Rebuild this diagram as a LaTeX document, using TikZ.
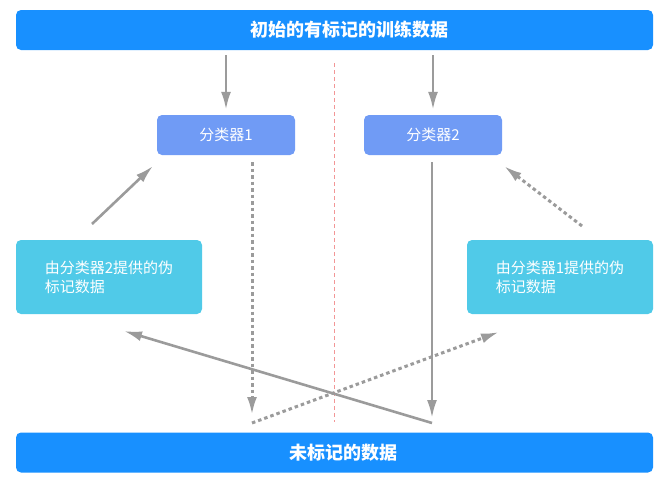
\documentclass[tikz,border=0pt]{standalone}
\usepackage{fontspec}
\setmainfont{Noto Sans CJK SC}
\usepackage{xcolor}
\usetikzlibrary{positioning}
\usetikzlibrary{arrows.meta}
\definecolor{barblue}{RGB}{24,144,255}
\definecolor{clfblue}{RGB}{112,155,245}
\definecolor{pseudocyan}{RGB}{80,202,232}
\definecolor{linkgray}{RGB}{155,155,155}
\definecolor{splitred}{RGB}{242,150,150}
\tikzset{edge/.style = {->,> = {Latex[length=18pt,width=10pt]}, draw=linkgray}}

\begin{document}
\begin{tikzpicture}[x=1pt,y=-1pt,
  bar node/.style={rectangle,rounded corners=5pt,fill=barblue,text=white,font=\fontsize{18}{21}\selectfont\bfseries,minimum width=637pt,minimum height=40pt},
  clf node/.style={rectangle,rounded corners=5pt,fill=clfblue,text=white,font=\fontsize{15}{18}\selectfont,minimum width=138pt,minimum height=40pt},
  pseudo node/.style={rectangle,rounded corners=5pt,fill=pseudocyan,text=white,font=\fontsize{15}{19}\selectfont,align=left,minimum width=186pt,minimum height=74pt},
  solid link/.style={edge,line width=2.6pt},
  dotted link/.style={edge,line width=3pt,dash pattern=on 3.5pt off 3pt},
  split/.style={draw=splitred,line width=0.6pt,dash pattern=on 4pt off 3pt}]
                \useasboundingbox (0,0) rectangle (670,482);
                \node[bar node] (init) at (334.5,30) {\hspace*{30pt}初始的有标记的训练数据};
                \node[clf node] (clfA) at (226,135) {分类器1};
                \node[clf node] (clfB) at (433,135) {分类器2};
                \node[pseudo node] (pseudoB) at (109,277) {由分类器2提供的伪\\标记数据};
                \node[pseudo node] (pseudoA) at (560,277) {由分类器1提供的伪\\标记数据};
                \node[bar node] (unlab) at (334.5,452.5) {\hspace*{17pt}未标记的数据};

                % free ends of the links
                \coordinate (footA) at (252,423);
                \coordinate (footB) at (432,423);
                \coordinate (backB) at (124,331);
                \coordinate (backA) at (499,332);
                \coordinate (riseB) at (92,224);
                \coordinate (hitA) at (153,166);
                \coordinate (riseA) at (582,226);
                \coordinate (hitB) at (504,166);

                \draw[split] ([yshift=-13pt]init.south) -- ([yshift=10pt]unlab.north);

                \path (init.south -| clfA) edge[solid link, shorten <=5pt, shorten >=5pt] (clfA.north);
                \path (init.south -| clfB) edge[solid link, shorten <=5pt, shorten >=5pt] (clfB.north);
                \path (clfA.south -| footA) edge[dotted link, shorten <=7pt, shorten >=8pt] (footA);
                \path (clfB.south -| footB) edge[solid link, shorten <=7pt, shorten >=5pt] (footB);
                \path (footB) edge[solid link] (backB);
                \path (footA) edge[dotted link] (backA);
                \path (riseB) edge[solid link] (hitA);
                \path (riseA) edge[dotted link] (hitB);
            \end{tikzpicture}
\end{document}
